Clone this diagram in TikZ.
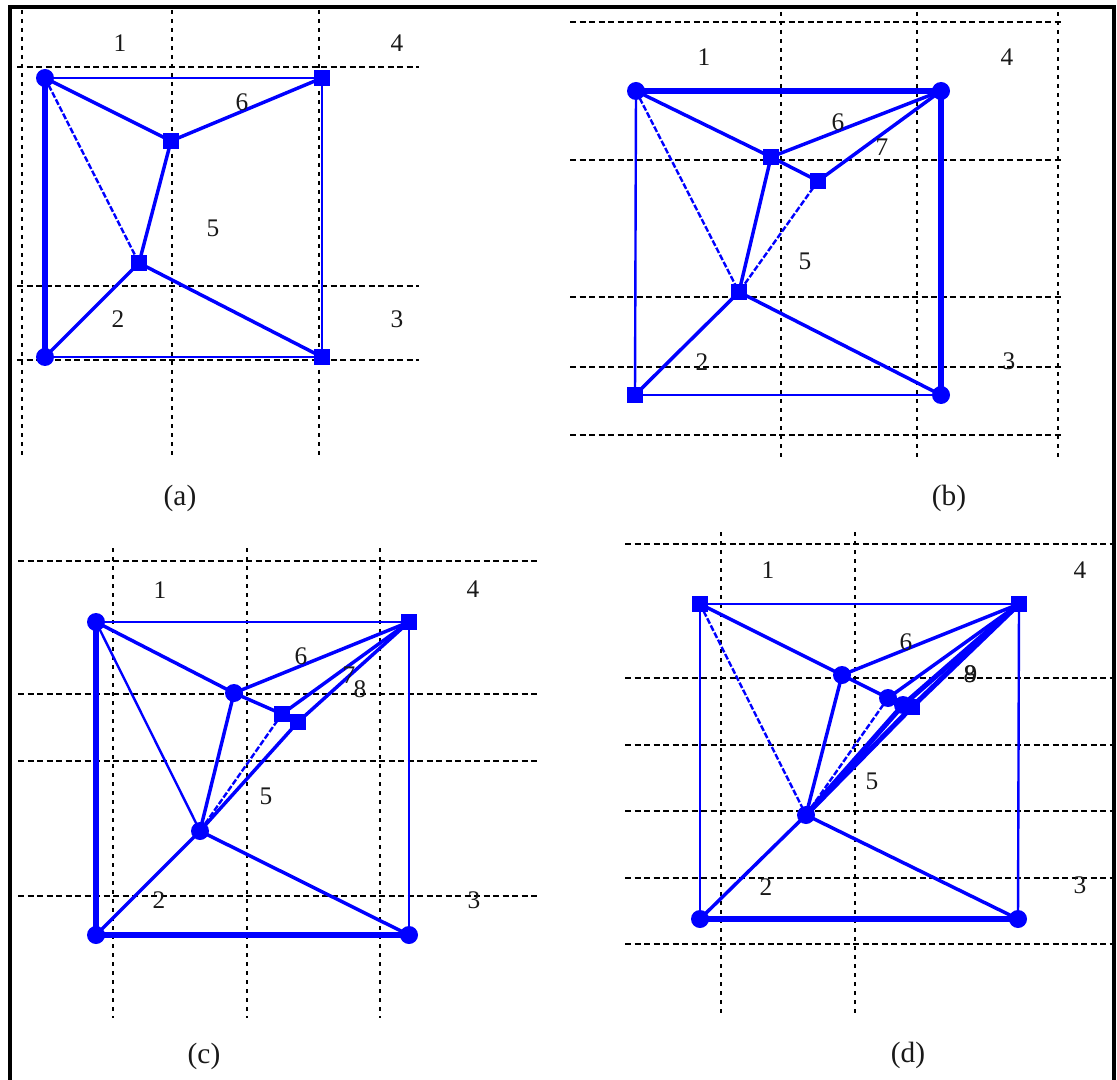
\documentclass[tikz,border=0pt]{standalone}
\usepackage{fontspec}
\setmainfont{Liberation Serif}
\definecolor{netblue}{RGB}{0,0,255}
\tikzset{
  gridh/.style={black,line width=2pt*0.75,dash pattern=on 6pt*0.75 off 3.5pt*0.75},
  gridv/.style={black,line width=2pt*0.75,dash pattern=on 4pt*0.75 off 5pt*0.75},
  vtx/.style={fill=netblue,draw=none,rectangle,minimum size=12.5pt,inner sep=0pt},
  vtxr/.style={fill=netblue,draw=none,circle,minimum size=13.5pt,inner sep=0pt},
  num/.style={font=\fontsize{19pt}{21pt}\selectfont,inner sep=0pt,text=black!90},
  captxt/.style={font=\fontsize{22pt}{24pt}\selectfont,inner sep=0pt,text=black!90},
  thinE/.style={netblue,line width=1.8pt},
  medE/.style={netblue,line width=2.6pt},
  thickE/.style={netblue,line width=3.8pt},
  dashE/.style={netblue,line width=1.8pt,dash pattern=on 4.5pt off 1.5pt},
}
\begin{document}
\begin{tikzpicture}[x=0.75pt,y=-0.75pt]
\useasboundingbox (0,0) rectangle (1117,1080);
\fill[white] (0,0) rectangle (1117,1080);
% frame
\fill[black] (8,5) rectangle (12,1080);
\fill[black] (8,5) rectangle (1116,9);
\fill[black] (1112,5) rectangle (1116,1080);
% grid (a)
\foreach \x in {22,172,319} \draw[gridv] (\x,10) -- (\x,460);
\foreach \y in {67,286,360} \draw[gridh] (17,\y) -- (419,\y);
% grid (b)
\foreach \x in {781,917,1058} \draw[gridv] (\x,12) -- (\x,460);
\foreach \y in {22,160,297,367,435} \draw[gridh] (570,\y) -- (1062,\y);
% grid (c)
\foreach \x in {113,247,380} \draw[gridv] (\x,548) -- (\x,1018);
\foreach \y in {561,694,761,896} \draw[gridh] (18,\y) -- (540,\y);
% grid (d)
\foreach \x in {721,855} \draw[gridv] (\x,532) -- (\x,1018);
\foreach \y in {544,678,745,811,878,944} \draw[gridh] (625,\y) -- (1112,\y);
% (a)
\node[vtxr] (a1) at (45,78) {};
\node[vtx]  (a4) at (322,78) {};
\node[vtxr] (a2) at (45,357) {};
\node[vtx]  (a3) at (322,357) {};
\node[vtx]  (ac) at (171,141) {};
\node[vtx]  (al) at (139,263) {};
\draw[thickE] (a1.center) -- (a2.center);
\draw[thinE] (a1.center) -- (a4.center);
\draw[thinE] (a4.center) -- (a3.center);
\draw[thinE] (a2.center) -- (a3.center);
\draw[medE] (a1.center) -- (ac.center);
\draw[medE] (ac.center) -- (a4.center);
\draw[medE] (ac.center) -- (al.center);
\draw[dashE] (a1.center) -- (al.center);
\draw[medE] (al.center) -- (a2.center);
\draw[medE] (al.center) -- (a3.center);
\node[num] (an1) at (120,43) {1};
\node[num] (an4) at (397,43) {4};
\node[num] (an5) at (213,228) {5};
\node[num] (an6) at (242,102) {6};
\node[num] (an2) at (118,319) {2};
\node[num] (an3) at (397,319) {3};
\node[captxt] (acap) at (180,498) {(a)};
% (b)
\node[vtxr] (b1) at (636,91) {};
\node[vtxr] (b4) at (941,91) {};
\node[vtx]  (b2) at (635,395) {};
\node[vtxr] (b3) at (941,395) {};
\node[vtx]  (bc) at (771,157) {};
\node[vtx]  (bd) at (818,181) {};
\node[vtx]  (bl) at (739,292) {};
\draw[thickE] (b1.center) -- (b4.center);
\draw[thickE] (b4.center) -- (b3.center);
\draw[thinE] (b1.center) -- (b2.center);
\draw[thinE] (b2.center) -- (b3.center);
\draw[medE] (b1.center) -- (bc.center);
\draw[medE] (bc.center) -- (b4.center);
\draw[medE] (bc.center) -- (bd.center);
\draw[medE] (bd.center) -- (b4.center);
\draw[medE] (bc.center) -- (bl.center);
\draw[dashE] (bd.center) -- (bl.center);
\draw[dashE] (b1.center) -- (bl.center);
\draw[medE] (bl.center) -- (b2.center);
\draw[medE] (bl.center) -- (b3.center);
\node[num] (bn1) at (704,57) {1};
\node[num] (bn4) at (1007,57) {4};
\node[num] (bn6) at (838,122) {6};
\node[num] (bn7) at (882,147) {7};
\node[num] (bn5) at (805,261) {5};
\node[num] (bn2) at (702,362) {2};
\node[num] (bn3) at (1009,361) {3};
\node[captxt] (bcap) at (949,498) {(b)};
% (c)
\node[vtxr] (c1) at (96,622) {};
\node[vtx]  (c4) at (409,622) {};
\node[vtxr] (c2) at (96,935) {};
\node[vtxr] (c3) at (409,935) {};
\node[vtxr] (cc) at (234,693) {};
\node[vtx]  (cd) at (282,714) {};
\node[vtx]  (ce) at (298,722) {};
\node[vtxr] (cl) at (200,831) {};
\draw[thickE] (c1.center) -- (c2.center);
\draw[thickE] (c2.center) -- (c3.center);
\draw[thinE] (c1.center) -- (c4.center);
\draw[thinE] (c4.center) -- (c3.center);
\draw[medE] (c1.center) -- (cc.center);
\draw[medE] (cc.center) -- (c4.center);
\draw[medE] (cc.center) -- (cd.center);
\draw[medE] (cd.center) -- (c4.center);
\draw[medE] (ce.center) -- (c4.center);
\draw[medE] (cd.center) -- (ce.center);
\draw[medE] (cc.center) -- (cl.center);
\draw[dashE] (cd.center) -- (cl.center);
\draw[medE] (ce.center) -- (cl.center);
\draw[thinE] (c1.center) -- (cl.center);
\draw[medE] (cl.center) -- (c2.center);
\draw[medE] (cl.center) -- (c3.center);
\node[num] (cn1) at (160,590) {1};
\node[num] (cn4) at (473,589) {4};
\node[num] (cn6) at (301,656) {6};
\node[num] (cn7) at (349,675) {7};
\node[num] (cn8) at (360,689) {8};
\node[num] (cn5) at (266,796) {5};
\node[num] (cn2) at (159,900) {2};
\node[num] (cn3) at (474,900) {3};
\node[captxt] (ccap) at (204,1056) {(c)};
% (d)
\node[vtx]  (d1) at (700,604) {};
\node[vtx]  (d4) at (1019,604) {};
\node[vtxr] (d2) at (700,919) {};
\node[vtxr] (d3) at (1018,919) {};
\node[vtxr] (dc) at (842,675) {};
\node[vtxr] (dd) at (888,698) {};
\node[vtxr] (de) at (903,705) {};
\node[vtx]  (df) at (912,707) {};
\node[vtxr] (dl) at (806,815) {};
\draw[thickE] (d2.center) -- (d3.center);
\draw[thinE] (d1.center) -- (d4.center);
\draw[thinE] (d1.center) -- (d2.center);
\draw[thinE] (d4.center) -- (d3.center);
\draw[medE] (d1.center) -- (dc.center);
\draw[medE] (dc.center) -- (d4.center);
\draw[medE] (dc.center) -- (dd.center);
\draw[medE] (dd.center) -- (d4.center);
\draw[medE] (dd.center) -- (de.center);
\draw[thickE] (de.center) -- (d4.center);
\draw[thickE] (df.center) -- (d4.center);
\draw[medE] (de.center) -- (df.center);
\draw[medE] (dc.center) -- (dl.center);
\draw[dashE] (dd.center) -- (dl.center);
\draw[thickE] (de.center) -- (dl.center);
\draw[thickE] (df.center) -- (dl.center);
\draw[dashE] (d1.center) -- (dl.center);
\draw[medE] (dl.center) -- (d2.center);
\draw[medE] (dl.center) -- (d3.center);
\node[num] (dn1) at (768,570) {1};
\node[num] (dn4) at (1080,570) {4};
\node[num] (dn6) at (906,642) {6};
\node[num] (dn8) at (970,674) {8};
\node[num] (dn9) at (971,674) {9};
\node[num] (dn5) at (872,781) {5};
\node[num] (dn2) at (766,887) {2};
\node[num] (dn3) at (1080,885) {3};
\node[captxt] (dcap) at (908,1055) {(d)};
\end{tikzpicture}
\end{document}
